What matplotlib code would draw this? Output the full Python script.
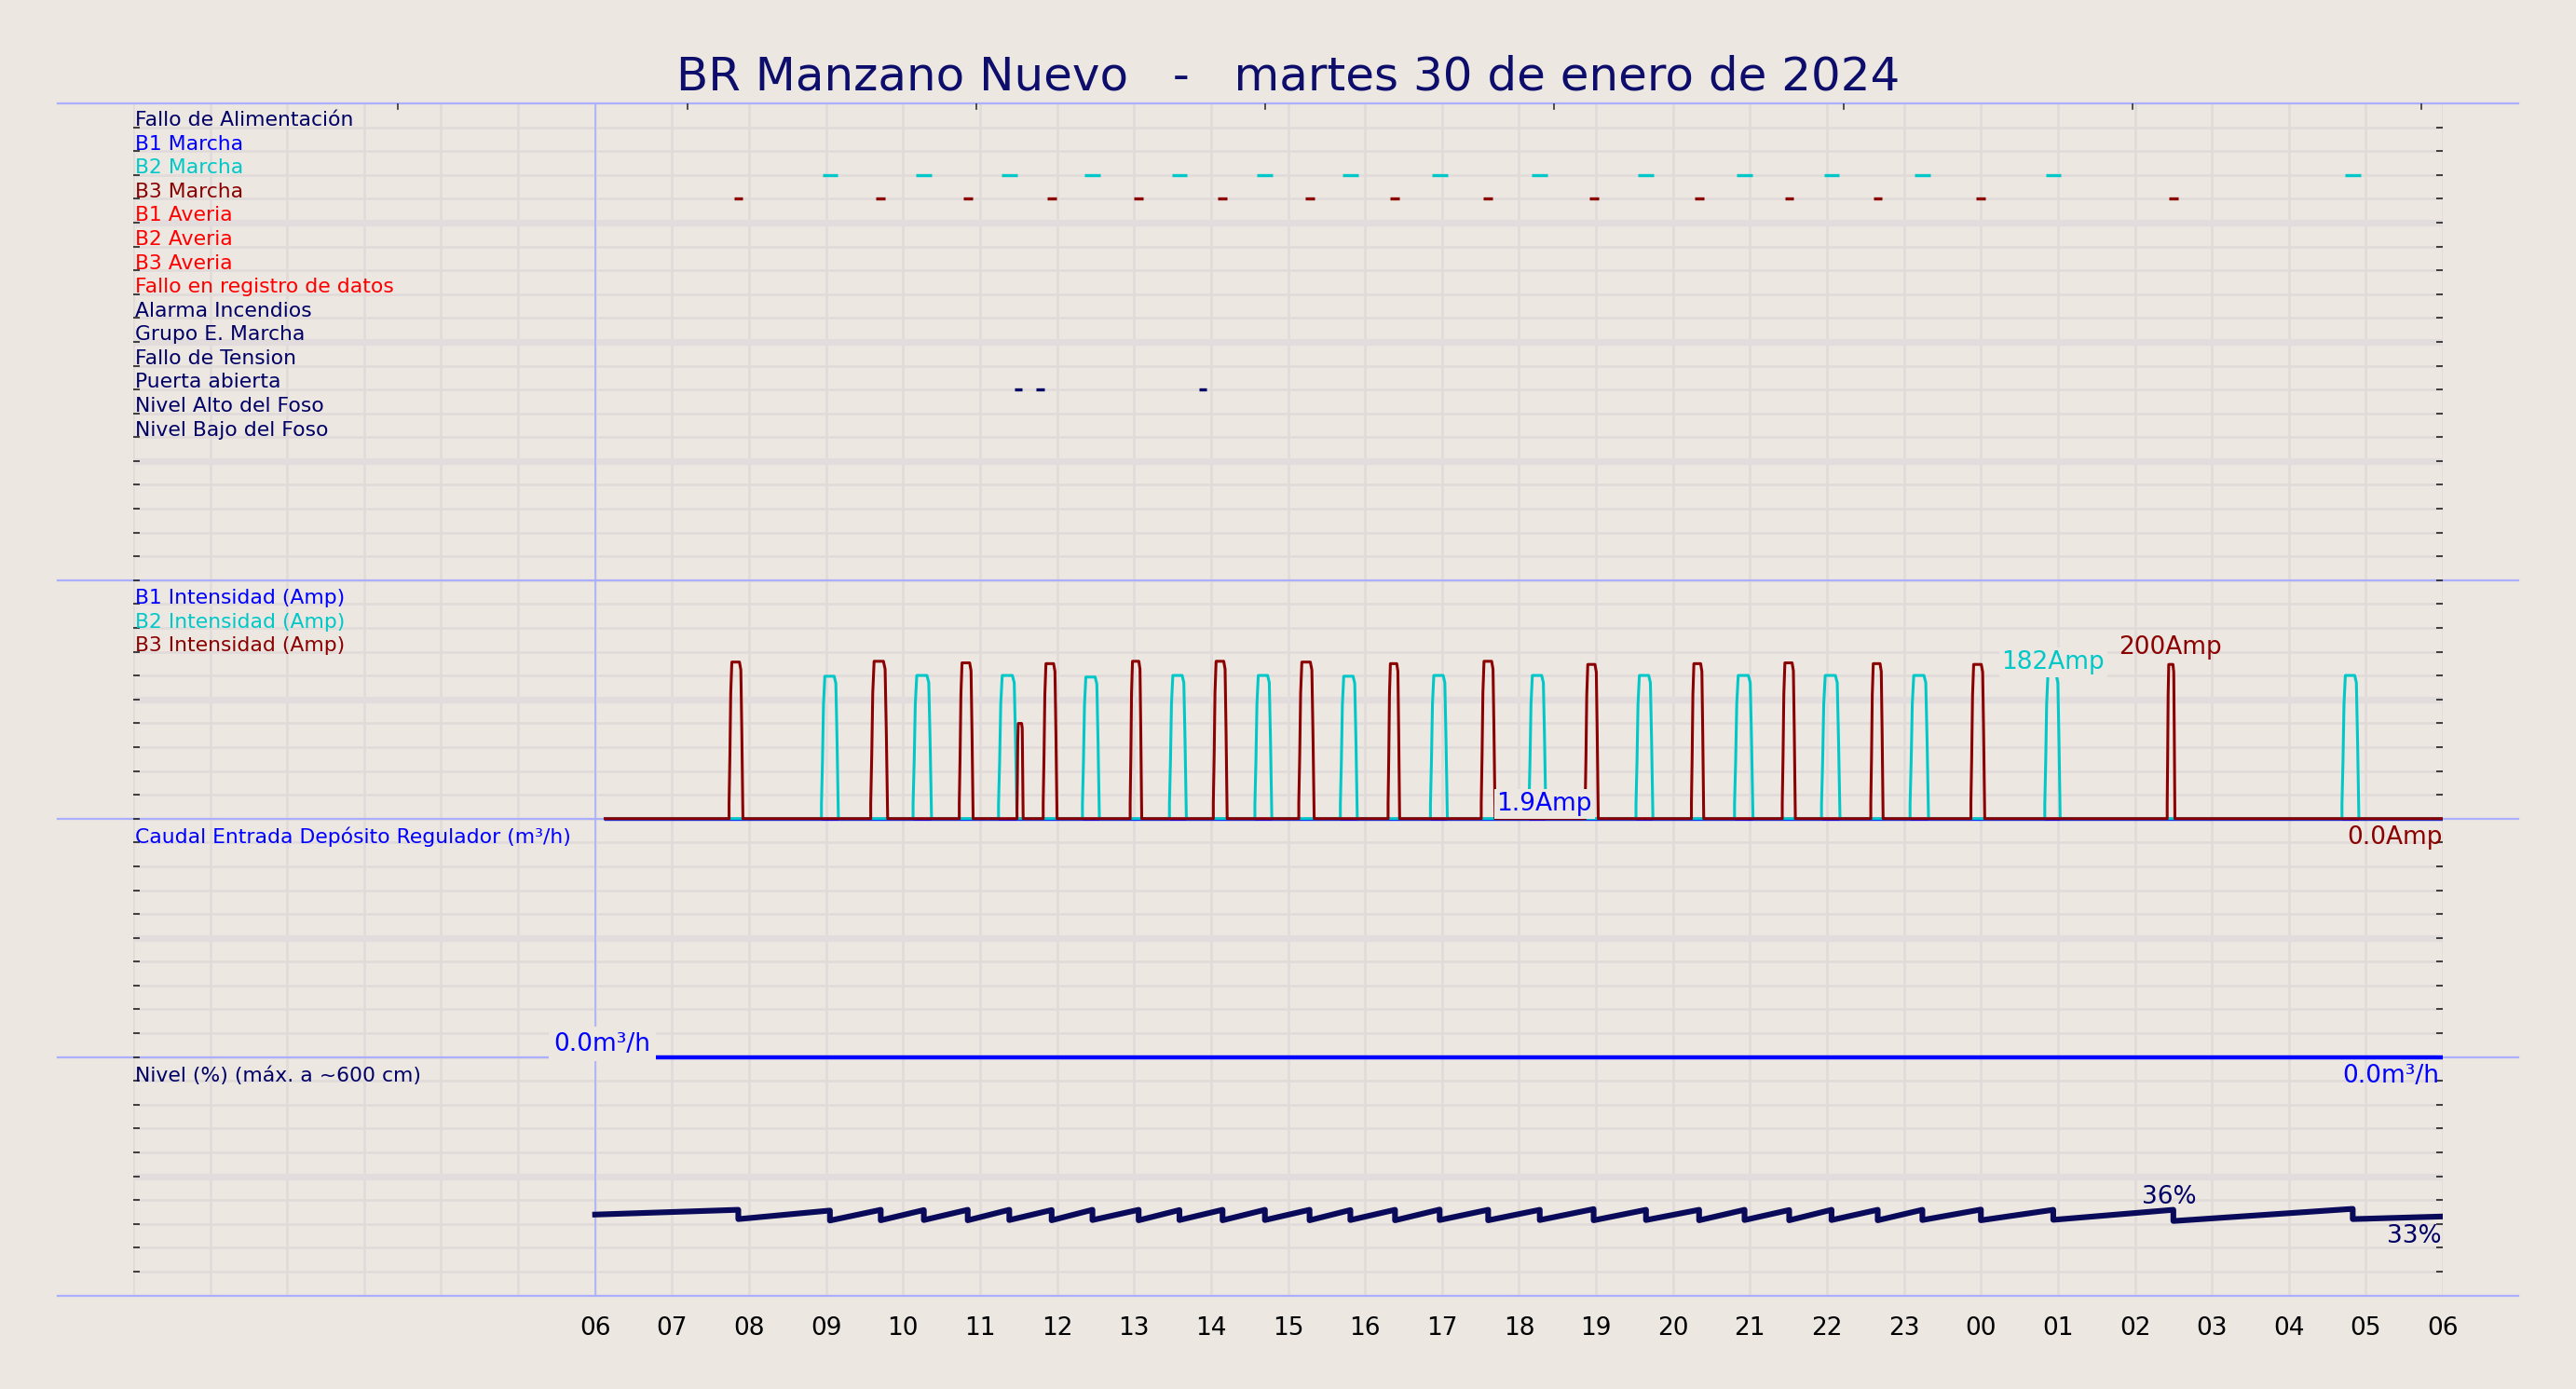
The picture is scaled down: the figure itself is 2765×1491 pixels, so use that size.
import matplotlib
matplotlib.use("Agg")
import matplotlib.pyplot as plt
import numpy as np

# ---------------- data ----------------
title = "BR Manzano Nuevo   -   martes 30 de enero de 2024"
hour_labels = ['06','07','08','09','10','11','12','13','14','15','16','17','18','19','20','21','22','23','00','01','02','03','04','05','06']

digital_labels = ["Fallo de Alimentación","B1 Marcha","B2 Marcha","B3 Marcha","B1 Averia","B2 Averia",
                  "B3 Averia","Fallo en registro de datos","Alarma Incendios","Grupo E. Marcha",
                  "Fallo de Tension","Puerta abierta","Nivel Alto del Foso","Nivel Bajo del Foso"]
digital_colors = ["#000066","#0000ff","#00c8c8","#8b0000","#ff0000","#ff0000","#ff0000","#ff0000",
                  "#000066","#000066","#000066","#000066","#000066","#000066"]

b2_mark_t = [3.05,4.27,5.38,6.46,7.59,8.70,9.81,10.97,12.27,13.65,14.93,16.06,17.24,18.94,22.83]
b3_mark_t = [1.86,3.71,4.84,5.93,7.06,8.15,9.28,10.39,11.60,12.97,14.34,15.51,16.66,18.00,20.50]
door_mark_t = [5.50,5.78,7.89]

b3_start = [1.74,3.58,4.73,5.82,6.95,8.03,9.14,10.30,11.51,12.86,14.24,15.42,16.57,17.87,20.42,5.48]
b3_end   = [1.92,3.80,4.91,6.00,7.10,8.21,9.34,10.45,11.69,13.03,14.40,15.59,16.73,18.05,20.52,5.56]
b3_peak  = [199,200,198,197,200,200,199,197,200,196,197,198,197,196,196,121]

b2_start = [2.94,4.13,5.24,6.33,7.46,8.57,9.68,10.85,12.13,13.52,14.80,15.93,17.08,18.83,22.69]
b2_end   = [3.16,4.37,5.48,6.55,7.68,8.79,9.90,11.07,12.35,13.74,15.04,16.17,17.32,19.03,22.91]
b2_peak  = [181,182,182,180,182,182,181,182,182,182,182,182,182,182,182]

level_t = [0.0,1.86,1.86,3.05,3.05,3.71,3.71,4.27,4.27,4.84,4.84,5.38,5.38,5.93,5.93,6.46,6.46,
           7.06,7.06,7.59,7.59,8.15,8.15,8.70,8.70,9.28,9.28,9.81,9.81,10.39,10.39,10.97,10.97,
           11.60,11.60,12.27,12.27,12.97,12.97,13.65,13.65,14.34,14.34,14.93,14.93,15.51,15.51,
           16.06,16.06,16.66,16.66,17.24,17.24,18.00,18.00,18.94,18.94,20.50,20.50,22.83,22.83,24.0]
level_v = [33.9,35.9,32.0,35.6,31.4,35.9,31.5,35.8,31.6,35.9,31.5,35.9,31.6,35.8,31.5,35.9,31.6,
           35.9,31.5,35.8,31.6,35.9,31.5,35.9,31.6,35.9,31.5,35.8,31.6,35.9,31.5,36.0,31.6,
           35.9,31.5,35.9,31.6,36.2,31.5,35.9,31.6,35.9,31.5,35.9,31.6,35.8,31.5,35.9,31.6,
           35.9,31.5,35.9,31.6,36.0,31.5,35.9,31.7,35.9,31.2,36.3,32.0,33.1]

flow_t = [0.0, 24.0]
flow_v = [0.0, 0.0]

# --------------- style ----------------
BG = "#ece7e1"
GRID = "#e0dbd8"
SEP = "#aab0ff"
NAVY = "#000066"
AMP_SCALE = 30.3
LFS = 7.9

fig = plt.figure(figsize=(13.825, 7.455), dpi=200, facecolor=BG)
ax = fig.add_axes([0.0517, 0.0674, 0.8966, 0.8581], facecolor=BG)
ax.set_xlim(-6, 24)
ax.set_ylim(0, 50)
for s in ax.spines.values():
    s.set_visible(False)

for h in range(-6, 25):
    ax.axvline(h, color=GRID, lw=0.9, zorder=0)
for r in range(1, 50):
    thick = (50 - r) in (5, 10, 15, 25, 35, 45)
    ax.axhline(r, color="#e2dddc" if thick else GRID, lw=2.6 if thick else 0.9, zorder=0)

for yy in [0, 10, 20, 30, 50]:
    ax.plot([-0.0327, 1.0327], [yy, yy], transform=ax.get_yaxis_transform(), color=SEP,
            lw=0.8, clip_on=False, zorder=1)
ax.axvline(0, color=SEP, lw=0.6, zorder=1)

ax.set_xticks(range(0, 25))
ax.set_xticklabels(hour_labels, fontsize=9.5)
ax.tick_params(axis='x', length=0, pad=8)
ax.set_yticks(range(1, 50))
ax.set_yticklabels([])
ax.tick_params(axis='y', which='both', direction='in', length=2.5, width=0.6, left=True, right=True, color='#222222')
top_ticks = [-2.56 + 3.755 * k for k in range(8)]
for tt in top_ticks:
    ax.plot([tt, tt], [49.75, 50], color='#333333', lw=0.6, zorder=2)

fig.text(0.5, 0.9445, title, ha='center', va='center', fontsize=18, color="#0d0d6b")

for i, (lab, c) in enumerate(zip(digital_labels, digital_colors)):
    ax.text(-5.97, 49.3 - i, lab, color=c, fontsize=LFS, va='center', ha='left')
for t in b2_mark_t:
    ax.plot([t - 0.1, t + 0.1], [47, 47], color="#00c8c8", lw=1.2, solid_capstyle='butt')
for t in b3_mark_t:
    ax.plot([t - 0.06, t + 0.06], [46, 46], color="#8b0000", lw=1.2, solid_capstyle='butt')
for t in door_mark_t:
    ax.plot([t - 0.05, t + 0.05], [38, 38], color=NAVY, lw=1.2, solid_capstyle='butt')

def pulse_trace(starts, ends, peaks):
    order = np.argsort(starts)
    ts, vs = [0.13], [0.0]
    for k in order:
        s, e, p = starts[k], ends[k], peaks[k]
        w = e - s
        ts += [s, s, s + 0.06 * w, s + 0.12 * w, s + 0.2 * w, e - 0.25 * w, e - 0.15 * w, e - 0.08 * w, e]
        vs += [0, 0.1 * p, 0.4 * p, 0.8 * p, p, p, 0.95 * p, 0.55 * p, 0]
    ts.append(24.0); vs.append(0.0)
    return np.array(ts), 20 + np.array(vs) / AMP_SCALE

ax.plot([0.13, 24], [20, 20], color="#0000ff", lw=1.2, zorder=3)
t2, v2 = pulse_trace(b2_start, b2_end, b2_peak)
ax.plot(t2, v2, color="#00c8c8", lw=1.1, zorder=4)
t3, v3 = pulse_trace(b3_start, b3_end, b3_peak)
ax.plot(t3, v3, color="#8b0000", lw=1.1, zorder=5)

ax.text(-5.97, 29.24, "B1 Intensidad (Amp)", color="#0000ff", fontsize=LFS, va='center')
ax.text(-5.97, 28.24, "B2 Intensidad (Amp)", color="#00c8c8", fontsize=LFS, va='center')
ax.text(-5.97, 27.24, "B3 Intensidad (Amp)", color="#8b0000", fontsize=LFS, va='center')
bb = dict(facecolor=BG, edgecolor='none', pad=1)
ax.text(12.33, 20.6, "1.9Amp", color="#0000ff", fontsize=9.5, ha='center', va='center', bbox=bb, zorder=6)
ax.text(18.94, 26.55, "182Amp", color="#00c8c8", fontsize=9.5, ha='center', va='center', bbox=bb, zorder=6)
ax.text(20.46, 27.17, "200Amp", color="#8b0000", fontsize=9.5, ha='center', va='center', zorder=6)
ax.text(24, 19.2, "0.0Amp", color="#8b0000", fontsize=9.5, ha='right', va='center', zorder=6)

ax.text(-5.97, 19.24, "Caudal Entrada Depósito Regulador (m³/h)", color="#0000ff", fontsize=LFS, va='center')
ax.plot(flow_t, 10 + np.array(flow_v), color="#0000ff", lw=1.6, zorder=4)
ax.text(0.09, 10.55, "0.0m³/h", color="#0000ff", fontsize=9.5, ha='center', va='center',
        bbox=dict(facecolor=BG, edgecolor='none', pad=2), zorder=6)
ax.text(23.95, 9.2, "0.0m³/h", color="#0000ff", fontsize=9.5, ha='right', va='center', zorder=6)

ax.text(-5.97, 9.2, "Nivel (%) (máx. a ~600 cm)", color=NAVY, fontsize=LFS, va='center')
ax.plot(level_t, np.array(level_v) / 10, color="#0a0a5a", lw=2.2, zorder=4)
ax.text(20.44, 4.14, "36%", color=NAVY, fontsize=9.5, ha='center', va='center', zorder=6)
ax.text(23.98, 2.5, "33%", color=NAVY, fontsize=9.5, ha='right', va='center', zorder=6)

fig.savefig("out.png", dpi=200, facecolor=BG)
